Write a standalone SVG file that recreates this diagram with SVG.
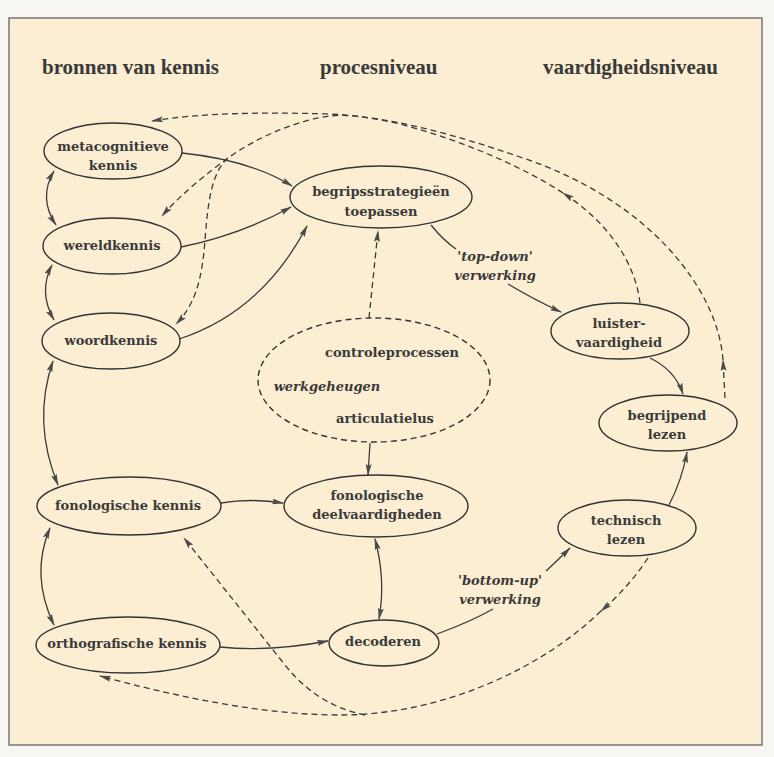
<svg xmlns="http://www.w3.org/2000/svg" width="774" height="757" viewBox="0 0 774 757">
<defs>
<style>
.hdr{font-family:"Liberation Serif",serif;font-weight:bold;font-size:21px;fill:#3a3a3a}
.lbl{font-family:"DejaVu Serif",serif;font-weight:bold;font-size:13px;fill:#3a3a3a;text-anchor:middle}
.it{font-family:"DejaVu Serif",serif;font-weight:bold;font-style:italic;font-size:13px;fill:#3a3a3a;text-anchor:middle}
.node{fill:none;stroke:#333;stroke-width:1.4}
.dnode{fill:none;stroke:#333;stroke-width:1.4;stroke-dasharray:6 4}
.c{fill:none;stroke:#3a3a3a;stroke-width:1.3}
.d{fill:none;stroke:#3a3a3a;stroke-width:1.3;stroke-dasharray:6 4}
</style>
<marker id="ah" viewBox="0 0 12 6" refX="11" refY="3" markerWidth="12" markerHeight="6" markerUnits="userSpaceOnUse" orient="auto-start-reverse">
<path d="M0,0 L12,3 L0,6 L2,3 Z" fill="#4a4a4a"/>
</marker>
</defs>
<rect x="0" y="0" width="774" height="757" fill="#f7f6f2"/>
<rect x="9" y="18" width="753" height="727" fill="#fbeed2" stroke="#777" stroke-width="1.5"/>
<g id="headers">
<text class="hdr" x="42" y="74">bronnen van kennis</text>
<text class="hdr" x="320" y="74">procesniveau</text>
<text class="hdr" x="543" y="74">vaardigheidsniveau</text>
</g>
<g id="connectors">
<path class="c" d="M182,153 Q250,160 292,186" marker-end="url(#ah)"/>
<path class="c" d="M181,247 Q240,235 291,207" marker-end="url(#ah)"/>
<path class="c" d="M179,339 Q262,312 307,226" marker-end="url(#ah)"/>
<path class="c" d="M431,225 Q443,240 456,249"/>
<path class="c" d="M508,284 Q535,300 561,312" marker-end="url(#ah)"/>
<path class="c" d="M650,358 Q675,370 683,394" marker-end="url(#ah)"/>
<path class="c" d="M669,505 Q682,480 687,452" marker-end="url(#ah)"/>
<path class="c" d="M437,634 Q470,622 493,609"/>
<path class="c" d="M546,571 Q558,560 570,548" marker-end="url(#ah)"/>
<path class="c" d="M221,503 Q250,498 283,503" marker-end="url(#ah)"/>
<path class="c" d="M220,647 Q270,652 328,641" marker-end="url(#ah)"/>
<path class="c" d="M370,443 L368,475" marker-end="url(#ah)"/>
<path class="c" d="M375,539 Q386,580 379,619" marker-start="url(#ah)" marker-end="url(#ah)"/>
<path class="c" d="M54,171 Q38,198 56,225" marker-start="url(#ah)" marker-end="url(#ah)"/>
<path class="c" d="M52,265 Q38,292 54,320" marker-start="url(#ah)" marker-end="url(#ah)"/>
<path class="c" d="M53,361 Q32,422 58,485" marker-start="url(#ah)" marker-end="url(#ah)"/>
<path class="c" d="M50,528 Q30,575 54,625" marker-start="url(#ah)" marker-end="url(#ah)"/>
<path class="d" d="M369,318 L378,231" marker-end="url(#ah)"/>
<path class="d" d="M725,398 L723,360" marker-end="url(#ah)"/>
<path class="d" d="M723,360 C718,290 650,200 520,157 C450,133 390,117 330,114 C260,112 200,113 152,121" marker-end="url(#ah)"/>
<path class="d" d="M640,303 C635,260 605,220 563,193" marker-end="url(#ah)"/>
<path class="d" d="M563,193 C520,165 460,140 400,124 C370,117 345,114 330,116 C300,120 260,135 228,158 C205,175 180,195 162,216" marker-end="url(#ah)"/>
<path class="d" d="M228,158 C212,172 208,200 205,240 C202,280 195,305 176,324" marker-end="url(#ah)"/>
<path class="d" d="M648,558 Q628,588 601,611" marker-end="url(#ah)"/>
<path class="d" d="M601,611 C540,670 440,715 340,715 C260,715 170,695 100,676" marker-end="url(#ah)"/>
<path class="d" d="M365,715 C330,708 305,690 285,665 L184,538" marker-end="url(#ah)"/>
</g>
<g id="n-metacognitieve"><ellipse class="node" cx="113" cy="151" rx="69" ry="28"/><text class="lbl" x="113" y="151">metacognitieve</text><text class="lbl" x="113" y="170">kennis</text></g>
<g id="n-wereldkennis"><ellipse class="node" cx="112" cy="246" rx="69" ry="28"/><text class="lbl" x="112" y="250">wereldkennis</text></g>
<g id="n-woordkennis"><ellipse class="node" cx="111" cy="341" rx="69" ry="28"/><text class="lbl" x="111" y="345">woordkennis</text></g>
<g id="n-begripsstrategieen"><ellipse class="node" cx="381" cy="197" rx="91" ry="31"/><text class="lbl" x="381" y="196">begripsstrategieën</text><text class="lbl" x="381" y="216">toepassen</text></g>
<g id="l-topdown"><text class="it" x="495" y="261">'top-down'</text><text class="it" x="495" y="280">verwerking</text></g>
<g id="n-luister"><ellipse class="node" cx="620" cy="331" rx="69" ry="28"/><text class="lbl" x="619" y="328">luister-</text><text class="lbl" x="619" y="347">vaardigheid</text></g>
<g id="n-begrijpend"><ellipse class="node" cx="668" cy="423" rx="69" ry="28"/><text class="lbl" x="667" y="420">begrijpend</text><text class="lbl" x="667" y="439">lezen</text></g>
<g id="n-technisch"><ellipse class="node" cx="627" cy="528" rx="69" ry="28"/><text class="lbl" x="626" y="525">technisch</text><text class="lbl" x="626" y="544">lezen</text></g>
<g id="n-werkgeheugen"><ellipse class="dnode" cx="374" cy="380" rx="116" ry="62"/><text class="lbl" x="392" y="357">controleprocessen</text><text class="it" x="327" y="391">werkgeheugen</text><text class="lbl" x="385" y="423">articulatielus</text></g>
<g id="n-fondeel"><ellipse class="node" cx="376" cy="506" rx="92" ry="31"/><text class="lbl" x="377" y="500">fonologische</text><text class="lbl" x="377" y="519">deelvaardigheden</text></g>
<g id="n-fonkennis"><ellipse class="node" cx="129" cy="506" rx="92" ry="29"/><text class="lbl" x="128" y="510">fonologische kennis</text></g>
<g id="n-orthokennis"><ellipse class="node" cx="128" cy="645" rx="92" ry="28"/><text class="lbl" x="127" y="648">orthografische kennis</text></g>
<g id="n-decoderen"><ellipse class="node" cx="384" cy="643" rx="55" ry="23"/><text class="lbl" x="383" y="646">decoderen</text></g>
<g id="l-bottomup"><text class="it" x="500" y="585">'bottom-up'</text><text class="it" x="500" y="604">verwerking</text></g>
</svg>
